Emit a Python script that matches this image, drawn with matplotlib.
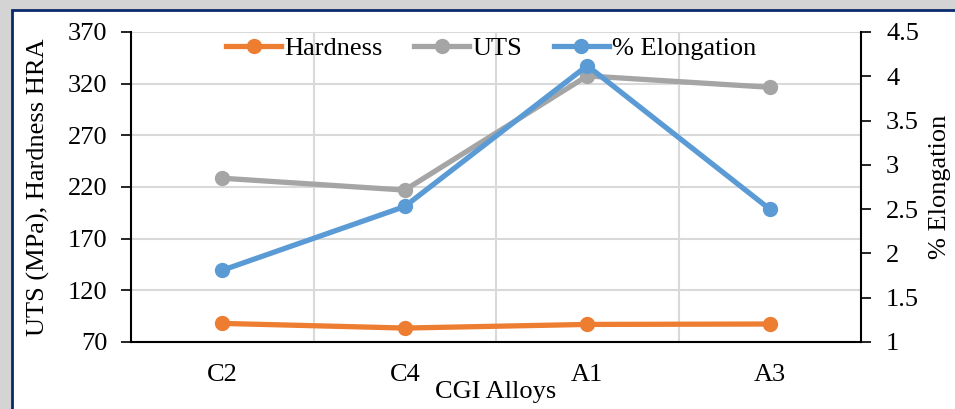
import matplotlib
matplotlib.use("Agg")
import matplotlib.pyplot as plt
from matplotlib.patches import Rectangle
import numpy as np

categories = ["C2", "C4", "A1", "A3"]
hardness = [88, 83.5, 87, 87.4]
uts = [228.5, 217, 327.5, 316.5]
elongation = [1.81, 2.53, 4.12, 2.50]

plt.rcParams['font.family'] = ['Liberation Serif', 'DejaVu Serif']

fig = plt.figure(figsize=(9.55, 4.09), dpi=100)
W, H = 955, 409
fig.patch.set_facecolor("white")
# shadow and frame
fig.add_artist(Rectangle((0, 0), 1, 1, transform=fig.transFigure, facecolor="#d4d4d4", edgecolor="none", zorder=-10))
fig.add_artist(Rectangle((12 / W, -0.1), 1.1, (H - 10) / H + 0.1, transform=fig.transFigure,
                         facecolor="white", edgecolor="#0b2a6b", linewidth=2.0, zorder=-9))

ax = fig.add_axes([131 / W, 1 - 342 / H, (861 - 131) / W, (342 - 32) / H])
x = np.arange(len(categories))
orange = "#ed7d31"
gray = "#a5a5a5"
blue = "#5b9bd5"
lw = 3.8
ms = 10
fs = 19

l1, = ax.plot(x, hardness, color=orange, lw=lw, marker="o", ms=ms, label="Hardness", zorder=3)
l2, = ax.plot(x, uts, color=gray, lw=lw, marker="o", ms=ms, label="UTS", zorder=3)
ax.set_xlim(-0.5, 3.5)
ax.set_ylim(70, 370)
ax.set_yticks(np.arange(70, 371, 50))
ax.set_xticks(x)
ax.set_xticklabels(categories)
ax.set_xticks([0.5, 1.5, 2.5], minor=True)
ax.grid(True, axis="y", color="#d9d9d9", lw=1.5)
ax.grid(True, axis="x", which="minor", color="#d9d9d9", lw=1.5)
ax.tick_params(axis="x", which="both", length=0, labelsize=fs, pad=16)
ax.tick_params(axis="y", direction="out", length=7, width=1.2, labelsize=fs, pad=10)
ax.set_axisbelow(True)
for s in ["top", "right"]:
    ax.spines[s].set_visible(False)
for s in ["left", "bottom"]:
    ax.spines[s].set_linewidth(1.5)
    ax.spines[s].set_color("black")
ax.set_ylabel("UTS (MPa), Hardness HRA", fontsize=fs, va="center")
ax.yaxis.set_label_coords(-0.127, 0.5)
ax.set_xlabel("CGI Alloys", fontsize=fs, va="center")
ax.xaxis.set_label_coords(0.5, -0.161)

ax2 = ax.twinx()
l3, = ax2.plot(x, elongation, color=blue, lw=lw, marker="o", ms=ms, label="% Elongation", zorder=4)
ax2.set_ylim(1, 4.5)
ax2.set_yticks([1, 1.5, 2, 2.5, 3, 3.5, 4, 4.5])
ax2.set_yticklabels(["1", "1.5", "2", "2.5", "3", "3.5", "4", "4.5"])
ax2.tick_params(axis="y", direction="out", length=7, width=1.2, labelsize=fs, pad=11)
for s in ["top", "left", "bottom"]:
    ax2.spines[s].set_visible(False)
ax2.spines["right"].set_linewidth(1.5)
ax2.set_ylabel("% Elongation", fontsize=fs, va="center", rotation=90)
ax2.yaxis.set_label_coords(1.108, 0.5)

leg = ax2.legend(handles=[l1, l2, l3], loc="center", bbox_to_anchor=(0.493, 0.948), ncol=3,
                 frameon=False, fontsize=fs, handlelength=2.1, columnspacing=1.2, handletextpad=0.1,
                 borderpad=0, borderaxespad=0)
leg.set_zorder(10)

fig.savefig("out.png", dpi=100)
